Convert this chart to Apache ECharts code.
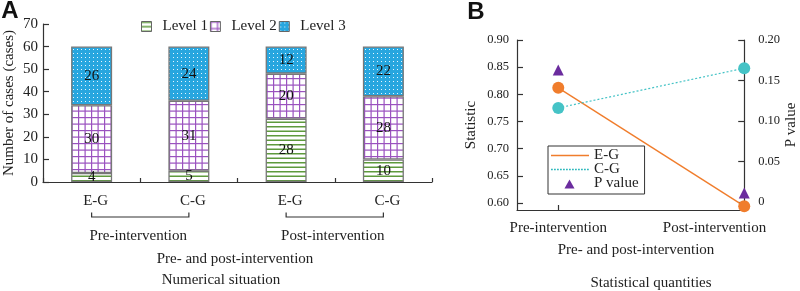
<!DOCTYPE html>
<html><head><meta charset="utf-8">
<script src="https://cdn.jsdelivr.net/npm/echarts@6/dist/echarts.min.js"></script>
<style>html,body{margin:0;padding:0;background:#fff}#c{width:800px;height:291px}</style>
</head><body><div id="c"></div>
<script>
// ---- Panel A data ----
const categories = ['E-G', 'C-G', 'E-G', 'C-G'];
const groupLabels = ['Pre-intervention', 'Post-intervention'];
const levelNames = ['Level 1', 'Level 2', 'Level 3'];
const level1 = [4, 5, 28, 10];
const level2 = [30, 31, 20, 28];
const level3 = [26, 24, 12, 22];

// ---- Panel B data ----
const timePoints = ['Pre-intervention', 'Post-intervention'];
const egStat = [0.812, 0.594];
const cgStat = [0.775, 0.848];
const pValues = [0.163, 0.011];
const statTicks = [0.60, 0.65, 0.70, 0.75, 0.80, 0.85, 0.90];
const pTicks = [0, 0.05, 0.10, 0.15, 0.20];

const FONT = 'Liberation Serif';

function pattern(w, h, draw) {
  const c = document.createElement('canvas');
  c.width = w; c.height = h;
  const g = c.getContext('2d');
  draw(g, w, h);
  return { image: c, repeat: 'repeat' };
}
const stripePat = pattern(4, 9, (g, w, h) => {
  g.fillStyle = '#fff'; g.fillRect(0, 0, w, h);
  g.fillStyle = '#5e9a3c';
  g.fillRect(0, 0, w, 1.5); g.fillRect(0, 4.5, w, 1.5);
});
const gridPat = pattern(13, 13, (g, w, h) => {
  g.fillStyle = '#fff'; g.fillRect(0, 0, w, h);
  g.fillStyle = '#9a52bf';
  g.fillRect(0, 0, 1.2, h); g.fillRect(6.5, 0, 1.2, h);
  g.fillRect(0, 0, w, 1.2); g.fillRect(0, 6.5, w, 1.2);
});
const dotPat = pattern(4, 4, (g, w, h) => {
  g.fillStyle = '#27a6df'; g.fillRect(0, 0, w, h);
  g.fillStyle = '#e8f6fd'; g.fillRect(1, 1, 1, 1);
});
const fills = [stripePat, gridPat, dotPat];
const levels = [level1, level2, level3];

const chart = echarts.init(document.getElementById('c'), null, { renderer: 'canvas' });

const axisLineStyle = { onZero: false, lineStyle: { color: '#333', width: 1.2 } };
const tickInside = (len) => ({ show: true, inside: true, length: len, lineStyle: { color: '#333', width: 1.2 } });

// legend icons (bounding box 38x10 forced by the two leading moveTo points)
const solidIcon = 'path://M0,0 M38,10 M0,4.3 L38,4.3 L38,5.7 L0,5.7 Z';
let dotted = 'path://M0,0 M38,10';
for (let x = 0; x < 38; x += 3) dotted += ' M' + x + ',4.3 L' + (x + 1.8) + ',4.3 L' + (x + 1.8) + ',5.7 L' + x + ',5.7 Z';
const triIcon = 'path://M0,0 M38,10 M13.5,10 L18.5,1 L23.5,10 Z';

const option = {
  animation: false,
  textStyle: { fontFamily: FONT },
  grid: [
    { left: 43, right: 368, top: 24, bottom: 109 },
    { left: 517, right: 52, top: 40, bottom: 81 }
  ],
  legend: [
    {
      data: levelNames, left: 141, top: 19, padding: 0, itemWidth: 10, itemHeight: 10, itemGap: 2,
      icon: 'rect',
      itemStyle: { borderColor: '#666', borderWidth: 1 },
      formatter: name => '{t|' + name + '}',
      textStyle: {
        fontFamily: FONT, fontSize: 15, color: '#222',
        rich: { t: { fontFamily: FONT, fontSize: 15, color: '#222', padding: [0, 0, 0, 6] } }
      }
    },
    {
      data: [
        { name: 'E-G', icon: solidIcon },
        { name: 'C-G', icon: dotted, itemStyle: { color: '#2fb9bd' } },
        { name: 'P value', icon: triIcon }
      ],
      orient: 'vertical', left: 548, top: 146,
      borderColor: '#333', borderWidth: 1, padding: [2, 6, 3, 3],
      itemWidth: 38, itemHeight: 10, itemGap: -1,
      textStyle: { fontFamily: FONT, fontSize: 15, color: '#222' }
    }
  ],
  xAxis: [
    {
      type: 'category', gridIndex: 0, data: categories,
      axisLine: axisLineStyle, axisTick: tickInside(4),
      axisLabel: { fontSize: 15, color: '#222', margin: 12, padding: [0, 0, 0, 8] }
    },
    {
      type: 'value', gridIndex: 1, min: -0.222, max: 1,
      splitLine: { show: false },
      axisLine: axisLineStyle,
      axisTick: Object.assign(tickInside(5), { customValues: [0] }),
      axisLabel: {
        customValues: [0, 0.84], fontSize: 15, color: '#222', margin: 11,
        formatter: v => (v < 0.5 ? timePoints[0] : timePoints[1])
      }
    }
  ],
  yAxis: [
    {
      type: 'value', gridIndex: 0, min: 0, max: 70, interval: 10,
      splitLine: { show: false },
      axisLine: { show: true, onZero: false, lineStyle: { color: '#333', width: 1.2 } },
      axisTick: tickInside(6),
      axisLabel: { fontSize: 15, color: '#222', margin: 5 },
      name: 'Number of cases (cases)', nameLocation: 'middle', nameGap: 26, nameRotate: 90,
      nameTextStyle: { fontFamily: FONT, fontSize: 15, color: '#222' }
    },
    {
      type: 'value', gridIndex: 1, min: 0.587, max: 0.90,
      splitLine: { show: false },
      axisLine: { show: true, onZero: false, lineStyle: { color: '#333', width: 1.2 } },
      axisTick: Object.assign(tickInside(6), { customValues: statTicks }),
      axisLabel: { customValues: statTicks, fontSize: 12.5, color: '#222', margin: 8, formatter: v => v.toFixed(2) },
      name: 'Statistic', nameLocation: 'middle', nameGap: 38, nameRotate: 90,
      nameTextStyle: { fontFamily: FONT, fontSize: 15, color: '#222' }
    },
    {
      type: 'value', gridIndex: 1, position: 'right', min: -0.0099, max: 0.20,
      splitLine: { show: false },
      axisLine: { show: true, onZero: false, lineStyle: { color: '#333', width: 1.2 } },
      axisTick: Object.assign(tickInside(6), { customValues: pTicks }),
      axisLabel: { customValues: pTicks, fontSize: 12.5, color: '#222', margin: 14, formatter: v => v === 0 ? '0' : v.toFixed(2) },
      name: 'P value', nameLocation: 'middle', nameGap: 36, nameRotate: 90,
      nameTextStyle: { fontFamily: FONT, fontSize: 15, color: '#222' }
    }
  ],
  series: [
    ...levels.map((vals, k) => ({
      name: levelNames[k], type: 'bar', stack: 'total', xAxisIndex: 0, yAxisIndex: 0,
      barWidth: 41, data: vals,
      itemStyle: { color: fills[k], borderColor: '#777', borderWidth: 1.3 },
      label: { show: true, position: 'inside', color: '#111', fontFamily: FONT, fontSize: 15, textBorderWidth: 0 }
    })),
    {
      name: 'E-G', type: 'line', xAxisIndex: 1, yAxisIndex: 1, symbol: 'none',
      data: timePoints.map((t, i) => [i, egStat[i]]),
      lineStyle: { color: '#f07d2c', width: 1.4 }, itemStyle: { color: '#f07d2c' }
    },
    {
      name: 'C-G', type: 'line', xAxisIndex: 1, yAxisIndex: 1, symbol: 'none',
      data: timePoints.map((t, i) => [i, cgStat[i]]),
      lineStyle: { color: '#45c3c6', width: 1.2, type: [2, 2] }, itemStyle: { color: '#45c3c6' }
    },
    {
      name: 'E-G points', type: 'scatter', xAxisIndex: 1, yAxisIndex: 1, symbol: 'circle', symbolSize: 12,
      data: timePoints.map((t, i) => [i, egStat[i]]), itemStyle: { color: '#f07d2c', opacity: 1 }, z: 5
    },
    {
      name: 'C-G points', type: 'scatter', xAxisIndex: 1, yAxisIndex: 1, symbol: 'circle', symbolSize: 12,
      data: timePoints.map((t, i) => [i, cgStat[i]]), itemStyle: { color: '#45c3c6', opacity: 1 }, z: 5
    },
    {
      name: 'P value', type: 'scatter', xAxisIndex: 1, yAxisIndex: 2, symbol: 'triangle', symbolSize: 11,
      data: timePoints.map((t, i) => [i, pValues[i]]), itemStyle: { color: '#6b2c9e', opacity: 1 }, z: 5
    }
  ]
};
chart.setOption(option);

// Group brackets and titles (bracket ends taken from the axis scale)
const px = i => chart.convertToPixel({ xAxisIndex: 0, yAxisIndex: 0 }, [i, 0]);
const graphics = [];
const txt = (s, x, y, size, extra) => ({
  type: 'text', silent: true,
  style: Object.assign({ text: s, x: x, y: y, align: 'center', verticalAlign: 'middle', fontFamily: FONT, fontSize: size, fill: '#222' }, extra || {})
});
groupLabels.forEach((g, gi) => {
  const a = px(gi * 2)[0], b = px(gi * 2 + 1)[0];
  graphics.push({
    type: 'polyline', silent: true,
    shape: { points: [[a, 212.5], [a, 217], [b, 217], [b, 212.5]] },
    style: { stroke: '#333', lineWidth: 1.2, fill: null }
  });
  graphics.push(txt(g, (a + b) / 2 - 2, 236, 15));
});
graphics.push(txt('Pre- and post-intervention', 235, 259, 15));
graphics.push(txt('Numerical situation', 221, 280, 15));
graphics.push(txt('Pre- and post-intervention', 636, 250, 15));
graphics.push(txt('Statistical quantities', 651, 283, 15));
graphics.push(txt('A', 10, 11, 24, { fontFamily: 'Liberation Sans', fontWeight: 'bold', fill: '#111' }));
graphics.push(txt('B', 476, 12, 24, { fontFamily: 'Liberation Sans', fontWeight: 'bold', fill: '#111' }));
chart.setOption({ graphic: graphics });
</script></body></html>
